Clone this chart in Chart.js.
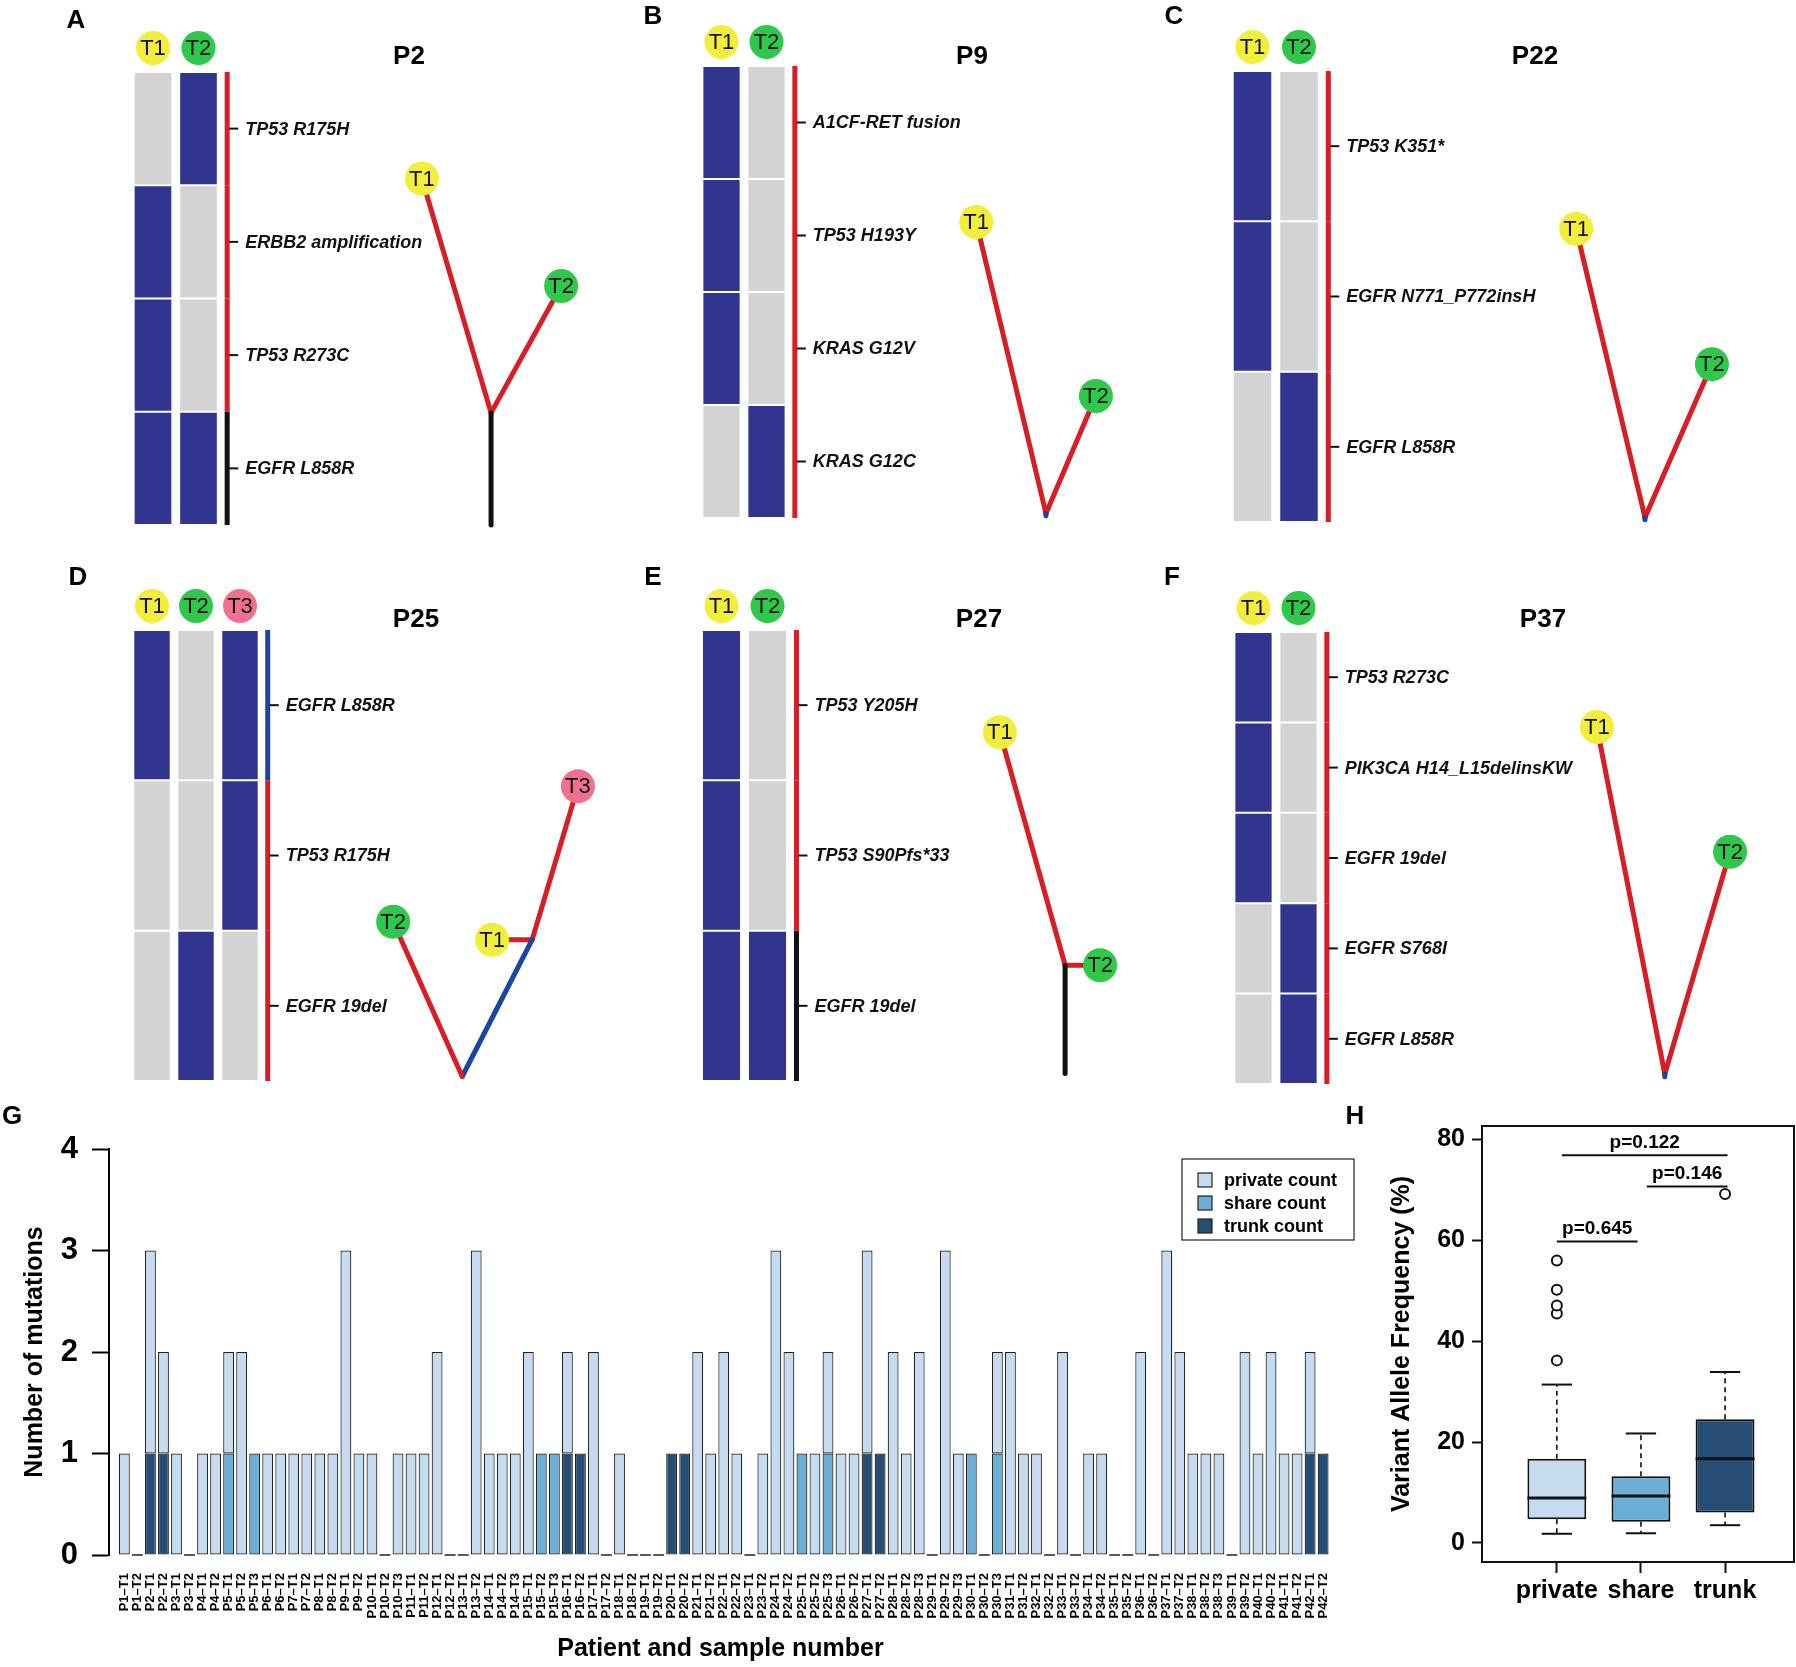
<!DOCTYPE html>
<html>
<head>
<meta charset="utf-8">
<script src="https://cdn.jsdelivr.net/npm/chart.js@4.4.1/dist/chart.umd.min.js"></script>
<style>
  html, body { margin: 0; padding: 0; background: #fff; }
  #page { position: relative; width: 1796px; height: 1667px; overflow: hidden; }
  .box { position: absolute; }
</style>
</head>
<body>
<div id="page">
  <div class="box" style="left:60px;top:0px;width:560px;height:540px"><canvas id="pA"></canvas></div>
  <div class="box" style="left:636px;top:0px;width:540px;height:540px"><canvas id="pB"></canvas></div>
  <div class="box" style="left:1158px;top:0px;width:638px;height:540px"><canvas id="pC"></canvas></div>
  <div class="box" style="left:60px;top:560px;width:560px;height:530px"><canvas id="pD"></canvas></div>
  <div class="box" style="left:636px;top:560px;width:540px;height:530px"><canvas id="pE"></canvas></div>
  <div class="box" style="left:1158px;top:560px;width:638px;height:530px"><canvas id="pF"></canvas></div>
  <div class="box" style="left:0px;top:1100px;width:1370px;height:567px"><canvas id="gChart"></canvas></div>
  <div class="box" style="left:1340px;top:1100px;width:456px;height:567px"><canvas id="hChart"></canvas></div>
</div>
<script>
// ---- panel A: P2 ----
const p2Samples = ['T1', 'T2'];
const p2Genes = ['TP53 R175H', 'ERBB2 amplification', 'TP53 R273C', 'EGFR L858R'];
const p2Matrix = [[0, 1], [1, 0], [1, 0], [1, 1]];
const p2Branch = ['private', 'private', 'private', 'trunk'];
const p2NodeNames = ['R', 'J', 'T1', 'T2'];
const p2NodeX = [7.43, 7.43, 5.91, 8.97];
const p2NodeY = [0, 0.99, 3.06, 2.11];
const p2Edges = [['R', 'J', 'trunk'], ['J', 'T1', 'private'], ['J', 'T2', 'private']];

// ---- panel B: P9 ----
const p9Samples = ['T1', 'T2'];
const p9Genes = ['A1CF-RET fusion', 'TP53 H193Y', 'KRAS G12V', 'KRAS G12C'];
const p9Matrix = [[1, 0], [1, 0], [1, 0], [0, 1]];
const p9Branch = ['private', 'private', 'private', 'private'];
const p9NodeNames = ['R', 'J', 'T1', 'T2'];
const p9NodeX = [7.21, 7.21, 5.66, 8.32];
const p9NodeY = [0.02, 0.04, 2.62, 1.08];
const p9Edges = [['R', 'J', 'share'], ['J', 'T1', 'private'], ['J', 'T2', 'private']];

// ---- panel C: P22 ----
const p22Samples = ['T1', 'T2'];
const p22Genes = ['TP53 K351*', 'EGFR N771_P772insH', 'EGFR L858R'];
const p22Matrix = [[1, 0], [1, 0], [0, 1]];
const p22Branch = ['private', 'private', 'private'];
const p22NodeNames = ['R', 'J', 'T1', 'T2'];
const p22NodeX = [8.44, 8.44, 6.96, 9.88];
const p22NodeY = [0.015, 0.03, 1.95, 1.05];
const p22Edges = [['R', 'J', 'share'], ['J', 'T1', 'private'], ['J', 'T2', 'private']];

// ---- panel D: P25 ----
const p25Samples = ['T1', 'T2', 'T3'];
const p25Genes = ['EGFR L858R', 'TP53 R175H', 'EGFR 19del'];
const p25Matrix = [[1, 0, 1], [0, 0, 1], [0, 1, 0]];
const p25Branch = ['share', 'private', 'private'];
const p25NodeNames = ['R', 'B', 'T1', 'T2', 'T3'];
const p25NodeX = [7.05, 8.64, 7.73, 5.48, 9.68];
const p25NodeY = [0.03, 0.94, 0.94, 1.06, 1.96];
const p25Edges = [['R', 'T2', 'private'], ['R', 'B', 'share'], ['B', 'T3', 'private'], ['B', 'T1', 'private']];

// ---- panel E: P27 ----
const p27Samples = ['T1', 'T2'];
const p27Genes = ['TP53 Y205H', 'TP53 S90Pfs*33', 'EGFR 19del'];
const p27Matrix = [[1, 0], [1, 0], [1, 1]];
const p27Branch = ['private', 'private', 'trunk'];
const p27NodeNames = ['R', 'J', 'T1', 'T2'];
const p27NodeX = [7.47, 7.47, 6.05, 8.23];
const p27NodeY = [0.05, 0.77, 2.32, 0.77];
const p27Edges = [['R', 'J', 'trunk'], ['J', 'T1', 'private'], ['J', 'T2', 'private']];

// ---- panel F: P37 ----
const p37Samples = ['T1', 'T2'];
const p37Genes = ['TP53 R273C', 'PIK3CA H14_L15delinsKW', 'EGFR 19del', 'EGFR S768I', 'EGFR L858R'];
const p37Matrix = [[1, 0], [1, 0], [1, 0], [0, 1], [0, 1]];
const p37Branch = ['private', 'private', 'private', 'private', 'private'];
const p37NodeNames = ['R', 'J', 'T1', 'T2'];
const p37NodeX = [9.14, 9.14, 7.63, 10.59];
const p37NodeY = [0.08, 0.11, 3.95, 2.57];
const p37Edges = [['R', 'J', 'share'], ['J', 'T1', 'private'], ['J', 'T2', 'private']];

// ---- panel G: mutation counts per sample ----
const sampleLabels = ['P1–T1','P1–T2','P2–T1','P2–T2','P3–T1','P3–T2','P4–T1','P4–T2','P5–T1','P5–T2','P5–T3',
  'P6–T1','P6–T2','P7–T1','P7–T2','P8–T1','P8–T2','P9–T1','P9–T2','P10–T1','P10–T2','P10–T3','P11–T1','P11–T2',
  'P12–T1','P12–T2','P13–T1','P13–T2','P14–T1','P14–T2','P14–T3','P15–T1','P15–T2','P15–T3','P16–T1','P16–T2',
  'P17–T1','P17–T2','P18–T1','P18–T2','P19–T1','P19–T2','P20–T1','P20–T2','P21–T1','P21–T2','P22–T1','P22–T2',
  'P23–T1','P23–T2','P24–T1','P24–T2','P25–T1','P25–T2','P25–T3','P26–T1','P26–T2','P27–T1','P27–T2','P28–T1',
  'P28–T2','P28–T3','P29–T1','P29–T2','P29–T3','P30–T1','P30–T2','P30–T3','P31–T1','P31–T2','P32–T1','P32–T2',
  'P33–T1','P33–T2','P34–T1','P34–T2','P35–T1','P35–T2','P36–T1','P36–T2','P37–T1','P37–T2','P38–T1','P38–T2',
  'P38–T3','P39–T1','P39–T2','P40–T1','P40–T2','P41–T1','P41–T2','P42–T1','P42–T2'];
const privateCount = [1,0,2,1,1,0,1,1,1,2, 0,1,1,1,1,1,1,3,1,1, 0,1,1,1,2,0,0,3,1,1,
  1,2,0,0,1,0,2,0,1,0, 0,0,0,0,2,1,2,1,0,1, 3,2,0,1,1,1,1,2,0,2, 1,2,0,3,1,0,0,1,2,1,
  1,0,2,0,1,1,0,0,2,0, 3,2,1,1,1,0,2,1,2,1, 1,1,0];
const shareCount = [0,0,0,0,0,0,0,0,1,0, 1,0,0,0,0,0,0,0,0,0, 0,0,0,0,0,0,0,0,0,0,
  0,0,1,1,0,0,0,0,0,0, 0,0,0,0,0,0,0,0,0,0, 0,0,1,0,1,0,0,0,0,0, 0,0,0,0,0,1,0,1,0,0,
  0,0,0,0,0,0,0,0,0,0, 0,0,0,0,0,0,0,0,0,0, 0,0,0];
const trunkCount = [0,0,1,1,0,0,0,0,0,0, 0,0,0,0,0,0,0,0,0,0, 0,0,0,0,0,0,0,0,0,0,
  0,0,0,0,1,1,0,0,0,0, 0,0,1,1,0,0,0,0,0,0, 0,0,0,0,0,0,0,1,1,0, 0,0,0,0,0,0,0,0,0,0,
  0,0,0,0,0,0,0,0,0,0, 0,0,0,0,0,0,0,0,0,0, 0,1,1];
const countTicks = [0, 1, 2, 3, 4];

// ---- panel H: VAF box plot ----
const vafGroups = ['private', 'share', 'trunk'];
const vafLowWhisker = [1.8, 1.9, 3.5];
const vafQ1 = [4.7, 4.2, 6.0];
const vafMedian = [8.9, 9.3, 16.7];
const vafQ3 = [16.7, 13.2, 24.5];
const vafHighWhisker = [31.4, 21.7, 33.9];
const vafOutlierGroup = [1, 1, 1, 1, 1, 3];
const vafOutlierValue = [36.2, 45.5, 47.1, 50.2, 56.0, 69.2];
const vafTicks = [0, 20, 40, 60, 80];
const pLabels = ['p=0.645', 'p=0.146', 'p=0.122'];
const pFrom = [1.0, 2.07, 1.06];
const pTo = [1.96, 3.03, 3.03];
const pLevel = [59.8, 70.7, 76.9];

// ---- styles ----
const FONT = "'Liberation Sans', Arial, Helvetica, sans-serif";
const NAVY = '#31358f', GREY = '#d3d3d3';
const BRANCH = { private: '#d81e25', share: '#1b45a4', trunk: '#111111' };
const SAMPLE_COL = { T1: '#f3ee3c', T2: '#2ec84b', T3: '#f2708f' };
const PRIV_C = '#c6dbef', SHARE_C = '#6baed6', TRUNK_C = '#264d74';

Chart.defaults.font.family = FONT;
Chart.defaults.color = '#000';
Chart.defaults.animation = false;

function panelChart(id, d, L) {
  const nG = d.genes.length, nS = d.samples.length;
  const padLeft = L.x0 - L.u / 2 - L.left;
  const xMax = -0.5 + (L.w - padLeft) / L.u;
  const lineX = nS - 1 + 0.63;
  const node = name => {
    const k = d.nodeNames.indexOf(name);
    return { x: d.nodeX[k], y: d.nodeY[k] };
  };
  const ds = [];
  // matrix cells, one floating bar set per gene row
  d.genes.forEach((g, i) => ds.push({
    type: 'bar', label: g, order: 5,
    data: d.samples.map((s, j) => ({ x: j, y: [nG - i - 1, nG - i] })),
    backgroundColor: d.samples.map((s, j) => d.matrix[i][j] ? NAVY : GREY),
    borderColor: '#ffffff', borderWidth: 1, borderSkipped: false,
    grouped: false, barPercentage: 1, categoryPercentage: 0.85
  }));
  // coloured bar next to the matrix
  d.genes.forEach((g, i) => ds.push({
    type: 'line', order: 4, clip: false, borderWidth: 5, pointRadius: 0, borderCapStyle: 'butt',
    borderColor: BRANCH[d.branch[i]],
    data: [{ x: lineX, y: nG - i }, { x: lineX, y: nG - i - 1 }]
  }));
  // tree branches
  d.edges.forEach(e => ds.push({
    type: 'line', order: 3, clip: false, borderWidth: 5, pointRadius: 0, borderCapStyle: 'round',
    borderColor: BRANCH[e[2]], data: [node(e[0]), node(e[1])]
  }));
  const tips = d.nodeNames.filter(n => n[0] === 'T');
  ds.push({
    type: 'scatter', order: 1, clip: false,
    data: tips.map(node), pointRadius: 17, pointHoverRadius: 17, pointBorderWidth: 0,
    pointBackgroundColor: tips.map(n => SAMPLE_COL[n])
  });

  const decor = {
    id: 'decor' + id,
    afterDatasetsDraw(chart) {
      const { ctx, chartArea, scales: { x, y } } = chart;
      ctx.save();
      ctx.textAlign = 'center';
      ctx.textBaseline = 'middle';
      ctx.fillStyle = '#000';
      ctx.font = 'bold 26px ' + FONT;
      ctx.fillText(L.letter, L.letterX, L.letterY);
      ctx.fillText(d.title, L.titleX, L.titleY);
      // sample header circles
      ctx.font = '22px ' + FONT;
      d.samples.forEach((s, j) => {
        const cx = x.getPixelForValue(j), cy = chartArea.top - 24;
        ctx.beginPath();
        ctx.arc(cx, cy, 17, 0, Math.PI * 2);
        ctx.fillStyle = SAMPLE_COL[s];
        ctx.fill();
        ctx.fillStyle = '#111';
        ctx.fillText(s, cx, cy + 1);
      });
      // gene ticks and names
      const lx = x.getPixelForValue(lineX);
      ctx.textAlign = 'left';
      ctx.font = 'italic bold 18px ' + FONT;
      ctx.strokeStyle = '#111';
      ctx.lineWidth = 2;
      d.genes.forEach((g, i) => {
        const gy = y.getPixelForValue(nG - i - 0.5);
        ctx.beginPath();
        ctx.moveTo(lx + 2, gy);
        ctx.lineTo(lx + 11, gy);
        ctx.stroke();
        ctx.fillStyle = '#111';
        ctx.fillText(g, lx + 18, gy + 1);
      });
      // tip labels
      const meta = chart.getDatasetMeta(chart.data.datasets.length - 1);
      ctx.textAlign = 'center';
      ctx.font = '22px ' + FONT;
      meta.data.forEach((el, k) => {
        ctx.fillStyle = '#111';
        ctx.fillText(tips[k], el.x, el.y + 1);
      });
      ctx.restore();
    }
  };

  return new Chart(document.getElementById(id), {
    type: 'bar',
    data: { datasets: ds },
    options: {
      responsive: true, maintainAspectRatio: false, animation: false, events: [],
      layout: { autoPadding: false,
        padding: { left: padLeft, right: 0, top: L.areaTop - L.top, bottom: L.top + L.h - L.areaBottom } },
      plugins: { legend: { display: false }, tooltip: { enabled: false } },
      scales: {
        x: {
          type: 'linear', display: false, offset: false, min: -0.5, max: xMax,
          afterBuildTicks: s => { s.ticks = d.samples.map((_, j) => ({ value: j })); }
        },
        y: { type: 'linear', display: false, min: 0, max: nG }
      }
    },
    plugins: [decor]
  });
}

panelChart('pA', { title: 'P2', samples: p2Samples, genes: p2Genes, matrix: p2Matrix, branch: p2Branch,
  nodeNames: p2NodeNames, nodeX: p2NodeX, nodeY: p2NodeY, edges: p2Edges },
  { letter: 'A', letterX: 16, letterY: 21, titleX: 349, titleY: 57,
    left: 60, top: 0, w: 560, h: 540, x0: 153, u: 45.5, areaTop: 72, areaBottom: 525 });
panelChart('pB', { title: 'P9', samples: p9Samples, genes: p9Genes, matrix: p9Matrix, branch: p9Branch,
  nodeNames: p9NodeNames, nodeX: p9NodeX, nodeY: p9NodeY, edges: p9Edges },
  { letter: 'B', letterX: 17, letterY: 17, titleX: 336, titleY: 57,
    left: 636, top: 0, w: 540, h: 540, x0: 721.5, u: 45, areaTop: 66, areaBottom: 518 });
panelChart('pC', { title: 'P22', samples: p22Samples, genes: p22Genes, matrix: p22Matrix, branch: p22Branch,
  nodeNames: p22NodeNames, nodeX: p22NodeX, nodeY: p22NodeY, edges: p22Edges },
  { letter: 'C', letterX: 16, letterY: 17, titleX: 377, titleY: 57,
    left: 1158, top: 0, w: 638, h: 540, x0: 1252.5, u: 46.5, areaTop: 71, areaBottom: 522 });
panelChart('pD', { title: 'P25', samples: p25Samples, genes: p25Genes, matrix: p25Matrix, branch: p25Branch,
  nodeNames: p25NodeNames, nodeX: p25NodeX, nodeY: p25NodeY, edges: p25Edges },
  { letter: 'D', letterX: 18, letterY: 18, titleX: 356, titleY: 60,
    left: 60, top: 560, w: 560, h: 530, x0: 152, u: 44, areaTop: 630, areaBottom: 1081 });
panelChart('pE', { title: 'P27', samples: p27Samples, genes: p27Genes, matrix: p27Matrix, branch: p27Branch,
  nodeNames: p27NodeNames, nodeX: p27NodeX, nodeY: p27NodeY, edges: p27Edges },
  { letter: 'E', letterX: 17, letterY: 18, titleX: 343, titleY: 60,
    left: 636, top: 560, w: 540, h: 530, x0: 721.5, u: 46, areaTop: 630, areaBottom: 1081 });
panelChart('pF', { title: 'P37', samples: p37Samples, genes: p37Genes, matrix: p37Matrix, branch: p37Branch,
  nodeNames: p37NodeNames, nodeX: p37NodeX, nodeY: p37NodeY, edges: p37Edges },
  { letter: 'F', letterX: 14, letterY: 18, titleX: 385, titleY: 60,
    left: 1158, top: 560, w: 638, h: 530, x0: 1253.5, u: 45, areaTop: 632, areaBottom: 1084 });

// ---- G: stacked counts ----
const gExtras = {
  id: 'gExtras',
  afterDatasetsDraw(chart) {
    // samples with no mutation still show a flat bar outline on the baseline
    const { ctx, scales: { x, y } } = chart;
    const half = (x.getPixelForValue(1) - x.getPixelForValue(0)) * 0.833 / 2;
    ctx.save();
    ctx.strokeStyle = '#222';
    ctx.lineWidth = 1.5;
    sampleLabels.forEach((s, i) => {
      if (privateCount[i] + shareCount[i] + trunkCount[i] > 0) return;
      const cx = x.getPixelForValue(i), by = y.getPixelForValue(0);
      ctx.beginPath();
      ctx.moveTo(cx - half, by);
      ctx.lineTo(cx + half, by);
      ctx.stroke();
    });
    ctx.restore();
  },
  afterDraw(chart) {
    const { ctx } = chart;
    ctx.save();
    ctx.fillStyle = '#000';
    ctx.font = 'bold 26px ' + FONT;
    ctx.textAlign = 'center';
    ctx.textBaseline = 'middle';
    ctx.fillText('G', 12, 17);
    // boxed legend, private on top
    const bx = 1182, by = 59, bw = 172, bh = 81;
    ctx.fillStyle = '#fff';
    ctx.fillRect(bx, by, bw, bh);
    ctx.strokeStyle = '#222';
    ctx.lineWidth = 1.2;
    ctx.strokeRect(bx, by, bw, bh);
    const items = chart.data.datasets.slice().reverse();
    ctx.font = 'bold 18px ' + FONT;
    ctx.textAlign = 'left';
    items.forEach((dset, k) => {
      const cy = by + 21 + k * 23;
      ctx.fillStyle = dset.backgroundColor;
      ctx.fillRect(bx + 16, cy - 7, 14, 14);
      ctx.strokeRect(bx + 16, cy - 7, 14, 14);
      ctx.fillStyle = '#000';
      ctx.fillText(dset.label, bx + 42, cy + 1);
    });
    ctx.restore();
  }
};

new Chart(document.getElementById('gChart'), {
  type: 'bar',
  data: {
    datasets: [
      { label: 'trunk count', data: trunkCount.map((v, i) => ({ x: i, y: v })), backgroundColor: TRUNK_C },
      { label: 'share count', data: shareCount.map((v, i) => ({ x: i, y: v })), backgroundColor: SHARE_C },
      { label: 'private count', data: privateCount.map((v, i) => ({ x: i, y: v })), backgroundColor: PRIV_C }
    ]
  },
  options: {
    responsive: true, maintainAspectRatio: false, animation: false, events: [],
    layout: { autoPadding: false, padding: { top: 49, right: 38, left: 0, bottom: 0 } },
    datasets: { bar: { borderColor: '#222', borderWidth: 1.2, borderSkipped: false, barPercentage: 1, categoryPercentage: 0.833 } },
    plugins: { legend: { display: false }, tooltip: { enabled: false } },
    scales: {
      x: {
        type: 'linear', stacked: true, offset: false, min: -1.18, max: 92.68,
        afterBuildTicks: s => { s.ticks = sampleLabels.map((_, i) => ({ value: i })); },
        afterFit: s => { s.height = 112; },
        grid: { display: false, offset: false }, border: { display: false },
        ticks: { autoSkip: false, minRotation: 90, maxRotation: 90, padding: 10, color: '#000',
          font: { size: 13, weight: 'bold' }, callback: v => sampleLabels[v] ?? '' },
        title: { display: true, text: 'Patient and sample number', color: '#000',
          font: { size: 25, weight: 'bold' }, padding: { top: 0, bottom: 3 } }
      },
      y: {
        stacked: true, min: 0, max: 4,
        afterBuildTicks: s => { s.ticks = countTicks.map(v => ({ value: v })); },
        afterFit: s => { s.width = 109; },
        ticks: { padding: 14, color: '#000', font: { size: 31, weight: 'bold' } },
        grid: { drawOnChartArea: false, tickLength: 17, tickWidth: 2, tickColor: '#000' },
        border: { display: true, color: '#000', width: 2 },
        title: { display: true, text: 'Number of mutations', color: '#000',
          font: { size: 25, weight: 'bold' }, padding: { top: 20, bottom: 0 } }
      }
    }
  },
  plugins: [gExtras]
});

// ---- H: box plot ----
const hDatasets = [];
hDatasets.push({
  type: 'bar', order: 5,
  data: vafGroups.map((g, i) => ({ x: i + 1, y: [vafQ1[i], vafQ3[i]] })),
  backgroundColor: [PRIV_C, SHARE_C, TRUNK_C],
  borderColor: '#111', borderWidth: 2, borderSkipped: false,
  barPercentage: 1, categoryPercentage: 0.7
});
const seg = (a, b, opts) => Object.assign({ type: 'line', data: [a, b], pointRadius: 0, borderColor: '#111', clip: false }, opts);
vafGroups.forEach((g, i) => {
  const c = i + 1;
  hDatasets.push(seg({ x: c, y: vafQ3[i] }, { x: c, y: vafHighWhisker[i] }, { borderWidth: 1.6, borderDash: [5, 4], order: 6 }));
  hDatasets.push(seg({ x: c, y: vafQ1[i] }, { x: c, y: vafLowWhisker[i] }, { borderWidth: 1.6, borderDash: [5, 4], order: 6 }));
  hDatasets.push(seg({ x: c - 0.18, y: vafHighWhisker[i] }, { x: c + 0.18, y: vafHighWhisker[i] }, { borderWidth: 2, order: 3 }));
  hDatasets.push(seg({ x: c - 0.18, y: vafLowWhisker[i] }, { x: c + 0.18, y: vafLowWhisker[i] }, { borderWidth: 2, order: 3 }));
  hDatasets.push(seg({ x: c - 0.35, y: vafMedian[i] }, { x: c + 0.35, y: vafMedian[i] }, { borderWidth: 3, order: 2 }));
});
pLabels.forEach((p, k) => {
  hDatasets.push(seg({ x: pFrom[k], y: pLevel[k] }, { x: pTo[k], y: pLevel[k] }, { borderWidth: 2, order: 2 }));
});
hDatasets.push({
  type: 'scatter', order: 1,
  data: vafOutlierValue.map((v, k) => ({ x: vafOutlierGroup[k], y: v })),
  pointRadius: 5, pointHoverRadius: 5, pointBackgroundColor: '#fff', pointBorderColor: '#111', pointBorderWidth: 2
});

const hExtras = {
  id: 'hExtras',
  afterDraw(chart) {
    const { ctx, chartArea, scales: { x, y } } = chart;
    ctx.save();
    ctx.strokeStyle = '#111';
    ctx.lineWidth = 2;
    ctx.strokeRect(chartArea.left, chartArea.top, chartArea.right - chartArea.left, chartArea.bottom - chartArea.top);
    ctx.fillStyle = '#000';
    ctx.font = 'bold 26px ' + FONT;
    ctx.textAlign = 'center';
    ctx.textBaseline = 'middle';
    ctx.fillText('H', 15, 17);
    ctx.font = 'bold 19px ' + FONT;
    ctx.textBaseline = 'bottom';
    pLabels.forEach((p, k) => {
      ctx.fillText(p, x.getPixelForValue((pFrom[k] + pTo[k]) / 2), y.getPixelForValue(pLevel[k]) - 3);
    });
    ctx.restore();
  }
};

new Chart(document.getElementById('hChart'), {
  type: 'bar',
  data: { datasets: hDatasets },
  options: {
    responsive: true, maintainAspectRatio: false, animation: false, events: [],
    layout: { autoPadding: false, padding: { top: 26, right: 2, left: 0, bottom: 0 } },
    plugins: { legend: { display: false }, tooltip: { enabled: false } },
    scales: {
      x: {
        type: 'linear', offset: false, min: 0.11, max: 3.82,
        afterBuildTicks: s => { s.ticks = vafGroups.map((_, i) => ({ value: i + 1 })); },
        afterFit: s => { s.height = 105; },
        grid: { offset: false, drawOnChartArea: false, tickLength: 11, tickWidth: 2, tickColor: '#111' },
        border: { display: false },
        ticks: { padding: 3, color: '#000', font: { size: 25, weight: 'bold' }, callback: v => vafGroups[v - 1] ?? '' }
      },
      y: {
        min: -3.8, max: 82.7,
        afterBuildTicks: s => { s.ticks = vafTicks.map(v => ({ value: v })); },
        afterFit: s => { s.width = 142; },
        grid: { drawOnChartArea: false, tickLength: 10, tickWidth: 2, tickColor: '#111' },
        border: { display: false },
        ticks: { padding: 7, color: '#000', font: { size: 25, weight: 'bold' } },
        title: { display: true, text: 'Variant Allele Frequency (%)', color: '#000',
          font: { size: 25, weight: 'bold' }, padding: { top: 47, bottom: 0 } }
      }
    }
  },
  plugins: [hExtras]
});
</script>
</body>
</html>
